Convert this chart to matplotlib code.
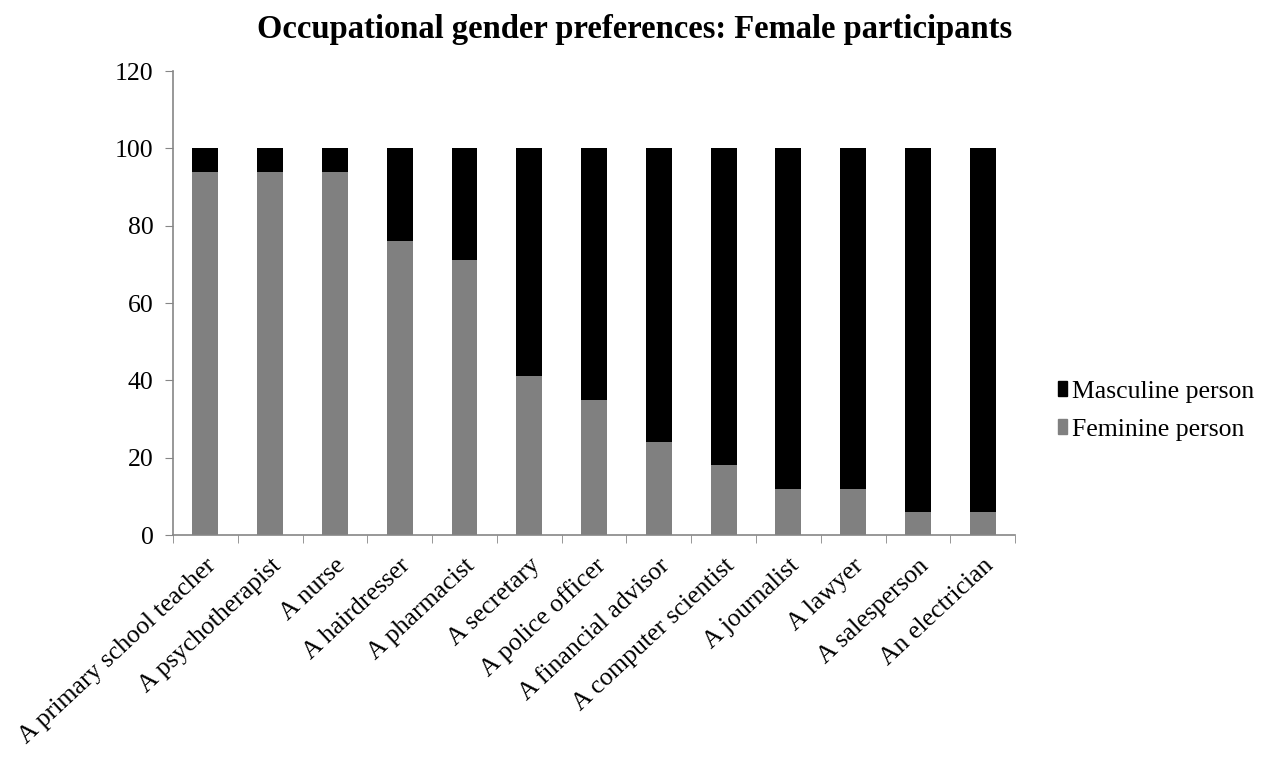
import matplotlib
matplotlib.use("Agg")
import matplotlib.pyplot as plt
import numpy as np
from matplotlib.patches import Patch

occupations = [
    "A primary school teacher", "A psychotherapist", "A nurse", "A hairdresser",
    "A pharmacist", "A secretary", "A police officer", "A financial advisor",
    "A computer scientist", "A journalist", "A lawyer", "A salesperson",
    "An electrician",
]
feminine = [94, 94, 94, 76, 71, 41, 35, 24, 18, 12, 12, 6, 6]
masculine = [100 - v for v in feminine]
y_ticks = [0, 20, 40, 60, 80, 100, 120]

plt.rcParams['font.family'] = ['Liberation Serif', 'DejaVu Serif']

fig = plt.figure(figsize=(12.69, 7.62), dpi=100)
ax = fig.add_axes([0.1363, 0.2979, 0.6637, 0.6089])

x = np.arange(len(occupations))
ax.bar(x, feminine, width=0.4, color='#808080', label='Feminine person')
ax.bar(x, masculine, width=0.4, bottom=feminine, color='#000000', label='Masculine person')

ax.set_xlim(-0.5, len(occupations) - 0.5)
ax.set_ylim(0, 120)
ax.set_yticks(y_ticks)
ax.tick_params(axis='y', labelsize=18.5, length=6, color='#868686', direction='out', pad=8)

ax.set_xticks(x)
ax.set_xticklabels(occupations, rotation=43, ha='right', rotation_mode='anchor', fontsize=18.5)
ax.tick_params(axis='x', length=0, pad=14)
ax.set_xticks(np.arange(len(occupations) + 1) - 0.5, minor=True)
ax.tick_params(axis='x', which='minor', length=6, color='#868686', direction='out')

for side in ('top', 'right'):
    ax.spines[side].set_visible(False)
for side in ('left', 'bottom'):
    ax.spines[side].set_color('#868686')
    ax.spines[side].set_linewidth(1.2)

fig.suptitle("Occupational gender preferences: Female participants",
             fontsize=23.5, fontweight='bold', x=0.5, y=0.982)

handles = [Patch(color='#000000', label='Masculine person'),
           Patch(color='#808080', label='Feminine person')]
fig.legend(handles=handles, loc='center left', bbox_to_anchor=(0.834, 0.461),
           frameon=False, fontsize=18.5, handlelength=0.34, handleheight=0.55,
           handletextpad=0.2, labelspacing=0.62, borderpad=0, borderaxespad=0)

fig.savefig("out.png", dpi=100)
